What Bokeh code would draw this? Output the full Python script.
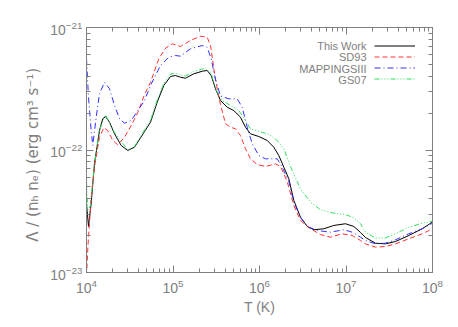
from bokeh.plotting import figure
from bokeh.models import (LogAxis, LogTicker, Legend, LegendItem, Label, Range1d,
                          CustomJSTickFormatter)
from bokeh.embed import file_html
from bokeh.resources import INLINE

# log10(T [K]) and log10(Lambda / (nH ne) [erg cm^3 s^-1])
tw_logT = [4.000, 4.023, 4.054, 4.092, 4.150, 4.188, 4.220, 4.266, 4.324, 4.401, 4.477, 4.555,
           4.671, 4.740, 4.817, 4.894, 4.971, 5.029, 5.087, 5.145, 5.240, 5.338, 5.395, 5.442,
           5.491, 5.549, 5.627, 5.703, 5.780, 5.838, 5.896, 5.992, 6.089, 6.165, 6.223, 6.281,
           6.339, 6.397, 6.474, 6.552, 6.628, 6.743, 6.859, 6.994, 7.090, 7.168, 7.225, 7.341,
           7.457, 7.572, 7.726, 7.881, 8.000]
tw_logL = [-22.437, -22.624, -22.439, -22.113, -21.841, -21.745, -21.727, -21.773, -21.868, -21.963,
           -22.004, -21.977, -21.849, -21.773, -21.610, -21.473, -21.400, -21.392, -21.406, -21.414,
           -21.378, -21.357, -21.351, -21.392, -21.500, -21.596, -21.651, -21.678, -21.732, -21.814,
           -21.868, -21.890, -21.922, -21.977, -22.045, -22.140, -22.235, -22.412, -22.549, -22.624,
           -22.651, -22.643, -22.616, -22.602, -22.624, -22.673, -22.714, -22.761, -22.766, -22.747,
           -22.698, -22.643, -22.588]

sd_logT = [4.000, 4.017, 4.054, 4.092, 4.150, 4.200, 4.246, 4.304, 4.362, 4.439, 4.517, 4.593,
           4.671, 4.740, 4.836, 4.913, 4.991, 5.087, 5.202, 5.318, 5.395, 5.434, 5.472, 5.511,
           5.549, 5.607, 5.665, 5.723, 5.780, 5.838, 5.896, 5.973, 6.069, 6.185, 6.243, 6.320,
           6.397, 6.474, 6.590, 6.705, 6.821, 6.956, 7.072, 7.168, 7.225, 7.341, 7.457, 7.572,
           7.726, 7.881, 8.000]
sd_logL = [-23.033, -22.780, -22.385, -22.140, -21.896, -21.819, -21.841, -21.922, -21.958, -21.896,
           -21.800, -21.694, -21.547, -21.447, -21.256, -21.169, -21.133, -21.155, -21.106, -21.071,
           -21.079, -21.147, -21.337, -21.500, -21.629, -21.786, -21.814, -21.827, -21.882, -21.990,
           -22.072, -22.118, -22.135, -22.113, -22.135, -22.257, -22.453, -22.576, -22.643, -22.690,
           -22.712, -22.684, -22.698, -22.739, -22.766, -22.793, -22.788, -22.766, -22.725, -22.684,
           -22.643]

mp_logT = [4.000, 4.023, 4.054, 4.073, 4.112, 4.150, 4.208, 4.266, 4.324, 4.382, 4.439, 4.517,
           4.593, 4.671, 4.740, 4.855, 4.951, 5.029, 5.087, 5.202, 5.338, 5.395, 5.442, 5.491,
           5.549, 5.645, 5.742, 5.800, 5.858, 5.916, 5.992, 6.069, 6.205, 6.262, 6.339, 6.397,
           6.474, 6.552, 6.667, 6.821, 6.975, 7.072, 7.168, 7.225, 7.341, 7.457, 7.572, 7.726,
           7.881, 8.000]
mp_logL = [-21.253, -21.569, -21.841, -21.963, -21.732, -21.541, -21.447, -21.500, -21.637, -21.745,
           -21.781, -21.759, -21.678, -21.596, -21.473, -21.310, -21.242, -21.229, -21.234, -21.174,
           -21.147, -21.161, -21.256, -21.424, -21.559, -21.582, -21.582, -21.651, -21.814, -21.949,
           -22.045, -22.072, -22.072, -22.140, -22.257, -22.426, -22.549, -22.624, -22.657, -22.671,
           -22.651, -22.671, -22.712, -22.739, -22.766, -22.761, -22.733, -22.684, -22.643, -22.598]

gs_logT = [4.000, 4.015, 4.046, 4.092, 4.150, 4.220, 4.324, 4.477, 4.555, 4.671, 4.740, 4.817,
           4.894, 4.971, 5.029, 5.087, 5.145, 5.240, 5.338, 5.376, 5.442, 5.491, 5.568, 5.665,
           5.761, 5.838, 5.896, 5.992, 6.108, 6.205, 6.281, 6.358, 6.474, 6.590, 6.705, 6.859,
           6.994, 7.090, 7.168, 7.225, 7.341, 7.457, 7.572, 7.726, 7.881, 8.000]
gs_logL = [-22.257, -22.494, -22.453, -22.111, -21.837, -21.714, -21.857, -22.000, -21.971, -21.837,
           -21.759, -21.592, -21.457, -21.380, -21.373, -21.388, -21.396, -21.359, -21.339, -21.332,
           -21.376, -21.500, -21.596, -21.637, -21.678, -21.759, -21.827, -21.847, -21.873, -21.922,
           -21.990, -22.135, -22.317, -22.426, -22.488, -22.516, -22.527, -22.553, -22.602, -22.671,
           -22.720, -22.717, -22.684, -22.630, -22.598, -22.581]

series_names = ["This Work", "SD93", "MAPPINGSIII", "GS07"]

GRAY = "#808080"
FONT = "Liberation Sans"

p = figure(width=452, height=322, x_axis_type="log", y_axis_type="log",
           x_range=Range1d(1e4, 1e8), y_range=Range1d(1e-23, 1e-21),
           output_backend="svg", toolbar_location=None,
           min_border_left=86, min_border_right=20, min_border_top=27, min_border_bottom=50)
p.xgrid.visible = False
p.ygrid.visible = False
p.outline_line_color = GRAY
p.background_fill_color = "white"
p.border_fill_color = "white"


def pw(v):
    return [10 ** t for t in v]


r_tw = p.line(pw(tw_logT), pw(tw_logL), line_color="#000000", line_width=1)
r_sd = p.line(pw(sd_logT), pw(sd_logL), line_color="#ff3030", line_width=1, line_dash="5 3")
r_mp = p.line(pw(mp_logT), pw(mp_logL), line_color="#3030ff", line_width=1, line_dash="6 3 1 3")
r_gs = p.line(pw(gs_logT), pw(gs_logL), line_color="#30dd60", line_width=1,
              line_dash="5 2 1 2 1 2 1 2")

blank = CustomJSTickFormatter(code="return ''")
p.add_layout(LogAxis(formatter=blank), "above")
p.add_layout(LogAxis(formatter=blank), "right")

for ax in p.axis:
    ax.ticker = LogTicker(num_minor_ticks=10)
    ax.axis_line_color = GRAY
    ax.major_tick_line_color = GRAY
    ax.minor_tick_line_color = GRAY
    ax.major_tick_in = 7
    ax.major_tick_out = 0
    ax.minor_tick_in = 4
    ax.minor_tick_out = 0
    ax.major_label_text_color = GRAY
    ax.major_label_text_font = FONT
    ax.major_label_text_font_size = "14px"
    ax.axis_label_text_color = GRAY
    ax.axis_label_text_font = FONT
    ax.axis_label_text_font_style = "normal"
    ax.axis_label_text_font_size = "14px"

bottom = p.below[0]
left = p.left[0]
bottom.axis_label = "T (K)"
bottom.axis_label_standoff = 3
bottom.major_label_standoff = 6
left.axis_label = "\u039b / (n\u2095 n\u2091)   (erg cm\u00b3 s\u207b\u00b9)"
left.axis_label_text_font = "DejaVu Sans"
left.axis_label_text_font_size = "15px"
left.axis_label_standoff = 5
left.major_label_standoff = 4

items = [LegendItem(label=" ", renderers=[r]) for r in (r_tw, r_sd, r_mp, r_gs)]
legend = Legend(items=items, location=(288, 188), orientation="vertical",
                glyph_width=41, glyph_height=11, label_height=11, label_width=1,
                label_standoff=0, spacing=0, padding=0, margin=0,
                border_line_alpha=0, background_fill_alpha=0, label_text_font_size="8px")
p.add_layout(legend)

ys = [226.3, 215.3, 203.7, 193.0]
for name, yy in zip(series_names, ys):
    p.add_layout(Label(x=280, y=yy, x_units="screen", y_units="screen", text=name,
                       text_align="right", text_baseline="middle", text_font_size="11px",
                       text_font=FONT, text_color=GRAY))

open("out.html", "w").write(file_html(p, INLINE))
